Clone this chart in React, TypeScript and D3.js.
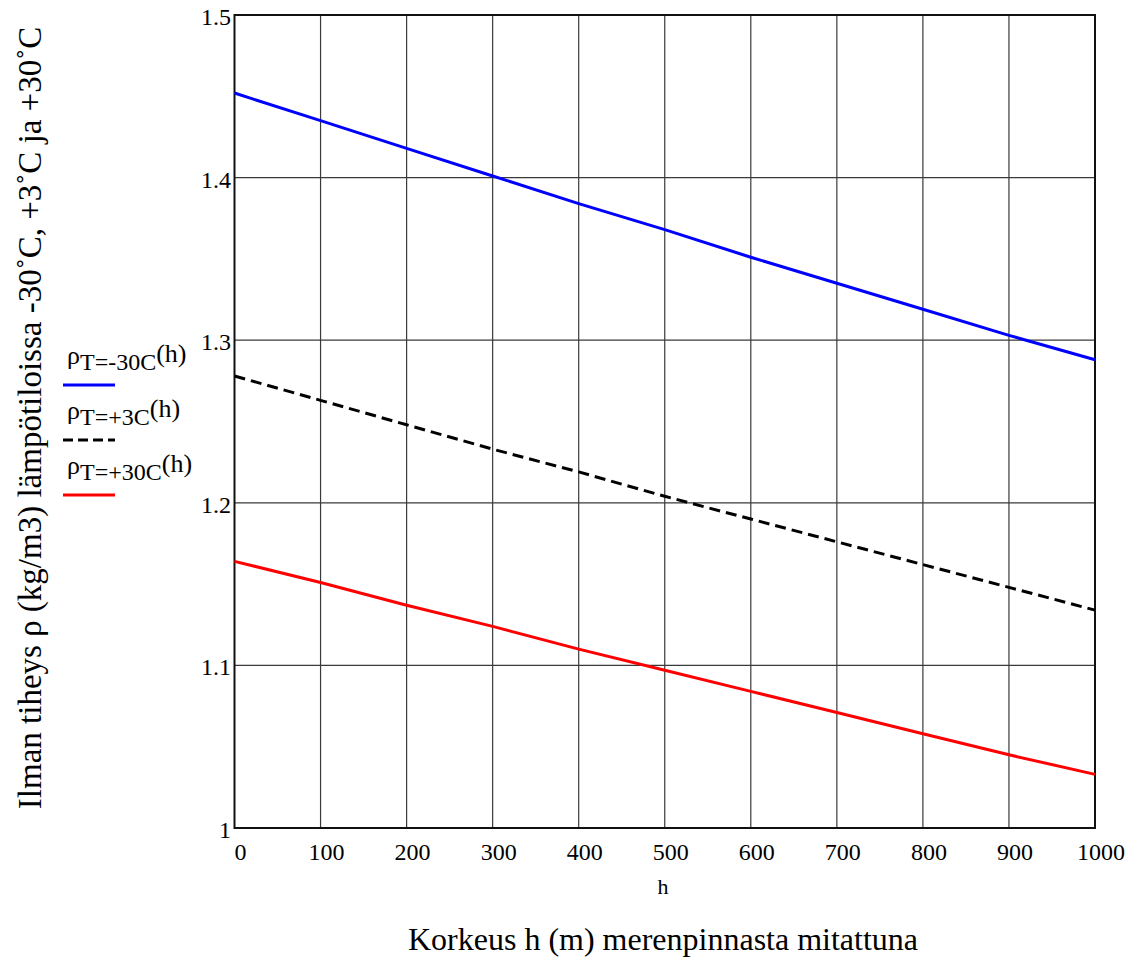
import { useRef, useEffect } from "react";
import * as d3 from "d3";

const width = 1140;
const height = 958;

// korkeus h (m)
const heights = [0, 100, 200, 300, 400, 500, 600, 700, 800, 900, 1000];
// ilman tiheys (kg/m3), luettu kuvasta
const rhoMinus30 = [1.452, 1.435, 1.418, 1.401, 1.384, 1.368, 1.351, 1.335, 1.319, 1.303, 1.288];
const rhoPlus3 = [1.278, 1.263, 1.248, 1.233, 1.219, 1.204, 1.19, 1.176, 1.162, 1.148, 1.134];
const rhoPlus30 = [1.164, 1.151, 1.137, 1.124, 1.11, 1.097, 1.084, 1.071, 1.058, 1.045, 1.033];

const xTicks = [0, 100, 200, 300, 400, 500, 600, 700, 800, 900, 1000];
const yTicks = [1, 1.1, 1.2, 1.3, 1.4, 1.5];

const series = [
  { sub: "T=-30C", values: rhoMinus30, color: "#0000ff", dash: null },
  { sub: "T=+3C", values: rhoPlus3, color: "#000000", dash: "11,6" },
  { sub: "T=+30C", values: rhoPlus30, color: "#ff0000", dash: null },
];

const font = "'Liberation Serif', 'Times New Roman', serif";

export default function App() {
  const ref = useRef<SVGSVGElement | null>(null);

  useEffect(() => {
    const svg = d3
      .select(ref.current)
      .attr("width", width)
      .attr("height", height)
      .attr("viewBox", `0 0 ${width} ${height}`);

    svg.selectAll("*").remove();

    const x = d3.scaleLinear().domain([0, 1000]).range([234.5, 1095]);
    const y = d3.scaleLinear().domain([1, 1.5]).range([828, 15]);

    // grid
    const grid = svg.append("g").attr("stroke", "#3a3a3a").attr("stroke-width", 1.2);
    grid
      .selectAll("line.v")
      .data(xTicks.slice(1, -1))
      .join("line")
      .attr("x1", (d) => x(d))
      .attr("x2", (d) => x(d))
      .attr("y1", y(1))
      .attr("y2", y(1.5));
    grid
      .selectAll("line.h")
      .data(yTicks.slice(1, -1))
      .join("line")
      .attr("x1", x(0))
      .attr("x2", x(1000))
      .attr("y1", (d) => y(d))
      .attr("y2", (d) => y(d));

    // frame
    svg
      .append("rect")
      .attr("x", x(0))
      .attr("y", y(1.5))
      .attr("width", x(1000) - x(0))
      .attr("height", y(1) - y(1.5))
      .attr("fill", "none")
      .attr("stroke", "#111")
      .attr("stroke-width", 2);

    // tick labels
    svg
      .append("g")
      .attr("font-family", font)
      .attr("font-size", 24)
      .attr("text-anchor", "end")
      .selectAll("text")
      .data(yTicks)
      .join("text")
      .attr("x", 231)
      .attr("y", (d) => y(d) + 10)
      .text((d) => d3.format("~g")(d));

    svg
      .append("g")
      .attr("font-family", font)
      .attr("font-size", 24)
      .attr("text-anchor", "middle")
      .selectAll("text")
      .data(xTicks)
      .join("text")
      .attr("x", (d) => x(d) + 6)
      .attr("y", 860)
      .text((d) => String(d));

    // lines
    const line = d3
      .line<number>()
      .x((_, i) => x(heights[i]))
      .y((d) => y(d));

    series.forEach((s) => {
      const p = svg
        .append("path")
        .datum(s.values)
        .attr("fill", "none")
        .attr("stroke", s.color)
        .attr("stroke-width", 3)
        .attr("d", line);
      if (s.dash) p.attr("stroke-dasharray", s.dash);
    });

    // legend
    series.forEach((s, i) => {
      const base = 370 + i * 55;
      const t = svg
        .append("text")
        .attr("font-family", font)
        .attr("x", 67)
        .attr("y", base - 6);
      t.append("tspan").attr("font-size", 26).text("ρ");
      t.append("tspan").attr("font-size", 24).attr("dy", 6).text(s.sub);
      t.append("tspan").attr("font-size", 26).attr("dy", -8).text("(h)");
      const l = svg
        .append("line")
        .attr("x1", 63)
        .attr("x2", 115)
        .attr("y1", base + 15)
        .attr("y2", base + 15)
        .attr("stroke", s.color)
        .attr("stroke-width", 3);
      if (s.dash) l.attr("stroke-dasharray", "10,5");
    });

    // axis titles
    svg
      .append("text")
      .attr("font-family", font)
      .attr("font-size", 22)
      .attr("text-anchor", "middle")
      .attr("x", 663)
      .attr("y", 894)
      .text("h");

    svg
      .append("text")
      .attr("font-family", font)
      .attr("font-size", 32)
      .attr("text-anchor", "middle")
      .attr("x", 663)
      .attr("y", 950)
      .text("Korkeus h (m) merenpinnasta mitattuna");

    svg
      .append("text")
      .attr("font-family", font)
      .attr("font-size", 33)
      .attr("text-anchor", "middle")
      .attr("transform", "translate(41,418) rotate(-90)")
      .text("Ilman tiheys ρ (kg/m3) lämpötiloissa -30˚C, +3˚C ja +30˚C");
  }, []);

  return <svg ref={ref} style={{ position: "absolute", left: 0, top: 0, background: "#fff" }} />;
}
